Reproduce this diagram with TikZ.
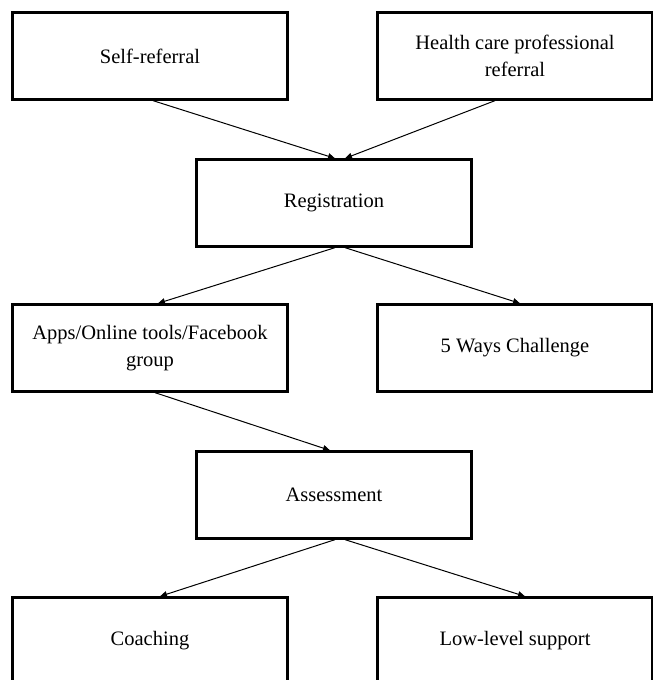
\documentclass[tikz,border=0pt]{standalone}
\usepackage{fontspec}
\setmainfont{Liberation Serif}
\usetikzlibrary{arrows.meta}
\begin{document}
\begin{tikzpicture}[x=1pt,y=-1pt,
  box/.style={draw=black,line width=2.3pt,minimum width=275pt,minimum height=87pt,
    inner sep=0pt,align=center,font=\fontsize{20.5}{27}\selectfont},
  flow/.style={line width=1pt,-{Triangle[length=7pt,width=6pt]}}]
\useasboundingbox (0,0) rectangle (653,680);
\clip (0,0) rectangle (653,680);
\node[box] (self) at (150,56) {Self-referral};
\node[box] (hcp) at (515,56) {Health care professional\\referral};
\node[box] (reg) at (334,203) {Registration};
\node[box] (apps) at (150,348) {Apps/Online tools/Facebook\\group};
\node[box] (five) at (515,348) {5 Ways Challenge};
\node[box] (ass) at (334,495) {Assessment};
\node[box] (coach) at (150,641) {Coaching};
\node[box] (low) at (515,641) {Low-level support};
\draw[flow] ([xshift=3pt]self.south) -- ([xshift=1pt]reg.north);
\draw[flow] ([xshift=-20pt]hcp.south) -- ([xshift=11pt]reg.north);
\draw[flow] ([xshift=1pt]reg.south) -- ([xshift=8pt]apps.north);
\draw[flow] ([xshift=11pt]reg.south) -- ([xshift=5pt]five.north);
\draw[flow] ([xshift=5pt]apps.south) -- ([xshift=-4pt]ass.north);
\draw[flow] ([xshift=1pt]ass.south) -- ([xshift=10pt]coach.north);
\draw[flow] ([xshift=11pt]ass.south) -- ([xshift=10pt]low.north);
\end{tikzpicture}
\end{document}
